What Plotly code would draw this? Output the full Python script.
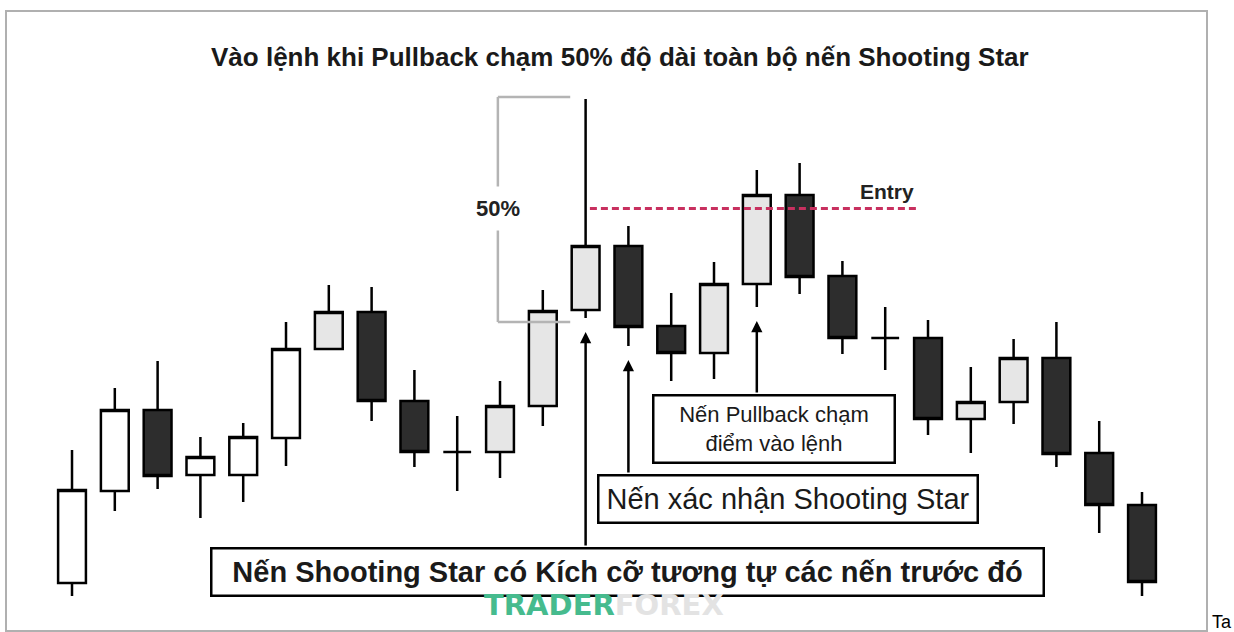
import plotly.graph_objects as go

# ==================== Data ====================
candle_no = list(range(1, 27))
price_open = [28.5, 74.5, 115, 82.5, 82.5, 101, 145.5, 164, 119.5, 94, 94, 117, 165,
              197, 157, 143.5, 178, 222.5, 182, 151, 151, 110.5, 119, 141, 93.5, 67.5]
price_high = [95, 126, 139.5, 101.5, 108.5, 159, 177.5, 176.5, 135, 112, 129.5, 175, 270.5,
              207, 173.5, 189, 235, 238.5, 189.5, 166.5, 160, 136.5, 150.5, 159, 109.5, 74]
price_low = [22, 64.5, 75.5, 61, 69, 87, 145, 109.5, 86.5, 74.5, 81, 107, 161,
             147, 129.5, 130.5, 166.5, 173, 143, 135, 102.5, 93.5, 108, 86.5, 53.5, 22]
price_close = [75, 115, 82, 91.5, 101.5, 145.5, 164, 119.5, 94, 94, 117, 164.5, 197,
               156.5, 143.5, 178, 222.5, 181.5, 151, 151, 110.5, 119, 141, 93, 67.5, 29]

# candles drawn with a light grey body
shaded = [7, 11, 12, 13, 16, 17, 22, 23]

star = 13          # Shooting Star
confirm = 14       # confirmation candle
pullback = 17      # pullback candle touching entry

title = "Vào lệnh khi Pullback chạm 50% độ dài toàn bộ nến Shooting Star"
label_star = "Nến Shooting Star có Kích cỡ tương tự các nến trước đó"
label_confirm = "Nến xác nhận Shooting Star"
label_pullback = "Nến Pullback chạm<br>điểm vào lệnh"

FONT = "Liberation Sans, Arial, sans-serif"


def pick(values, idx):
    return [values[i - 1] for i in idx]


plain = [n for n in candle_no if n not in shaded]
star_hi = price_high[star - 1]
star_lo = price_low[star - 1]
entry = (star_hi + star_lo) / 2

# ==================== Candles ====================
fig = go.Figure()

for idx, up_fill in [(plain, "white"), (shaded, "#e6e6e6")]:
    fig.add_trace(go.Candlestick(
        x=idx,
        open=pick(price_open, idx),
        high=pick(price_high, idx),
        low=pick(price_low, idx),
        close=pick(price_close, idx),
        increasing=dict(line=dict(color="black", width=2.5), fillcolor=up_fill),
        decreasing=dict(line=dict(color="black", width=2.5), fillcolor="#2d2d2d"),
        whiskerwidth=0,
        showlegend=False,
        hoverinfo="skip",
    ))

# ==================== Bracket & entry line ====================
bx0, bx1 = star - 2.05, star - 0.36
gray = "#b4b4b4"
fig.add_shape(type="line", x0=bx0, x1=bx1, y0=star_hi + 1, y1=star_hi + 1,
              line=dict(color=gray, width=2.5))
fig.add_shape(type="line", x0=bx0, x1=bx1, y0=star_lo - 2, y1=star_lo - 2,
              line=dict(color=gray, width=2.5))
fig.add_shape(type="line", x0=bx0, x1=bx0, y0=star_hi + 1, y1=entry + 11,
              line=dict(color=gray, width=2.5))
fig.add_shape(type="line", x0=bx0, x1=bx0, y0=entry - 11, y1=star_lo - 2,
              line=dict(color=gray, width=2.5))
fig.add_shape(type="line", x0=star + 0.1, x1=20.77, y0=entry, y1=entry,
              line=dict(color="#c8305f", width=3, dash="7px,4px"))

fig.add_annotation(x=bx0, y=entry, text="<b>50%</b>", showarrow=False,
                   xanchor="center", yanchor="middle",
                   font=dict(family=FONT, size=22, color="#222"))
fig.add_annotation(x=20.04, y=entry + 8.5, text="<b>Entry</b>", showarrow=False,
                   xanchor="center", yanchor="middle",
                   font=dict(family=FONT, size=21, color="#222"))

# ==================== Arrows ====================
for n, tail in [(star, 46.5), (confirm, 83), (pullback, 123)]:
    fig.add_annotation(x=n, y=price_low[n - 1] - 7, ax=n, ay=tail,
                       xref="x", yref="y", axref="x", ayref="y",
                       text="", showarrow=True, arrowhead=2, arrowsize=0.9,
                       arrowwidth=2.5, arrowcolor="black", standoff=0)

# ==================== Label boxes ====================
boxes = [
    (13.97, 34.25, 830, 45, "<b>" + label_star + "</b>", 29),
    (17.74, 70.75, 377, 45, label_confirm, 29),
    (17.41, 105.75, 239, 65, label_pullback, 22),
]
for bx, by, w, h, txt, size in boxes:
    fig.add_annotation(x=bx, y=by, text=txt, showarrow=False,
                       width=w, height=h, align="center", valign="middle",
                       xanchor="center", yanchor="middle",
                       bgcolor="white", bordercolor="black", borderwidth=2.5,
                       borderpad=0, font=dict(family=FONT, size=size, color="#1a1a1a"))

# ==================== Title, watermark ====================
fig.add_annotation(xref="paper", yref="paper", x=0.511, y=0.927, text="<b>" + title + "</b>",
                   xanchor="center", yanchor="middle",
                   showarrow=False, font=dict(family=FONT, size=26, color="#1a1a1a"))
fig.add_annotation(xref="paper", yref="paper", x=0.498, y=0.04,
                   xanchor="center", yanchor="middle",
                   text="<b><span style='color:#46bb8e'>TRADER</span>"
                        "<span style='color:#e3e3e3'>FOREX</span></b>",
                   showarrow=False, font=dict(family="DejaVu Sans", size=29))
fig.add_annotation(xref="paper", yref="paper", x=1.003, y=0.013, xanchor="left", yanchor="middle",
                   text="Ta", showarrow=False, font=dict(family=FONT, size=18, color="black"))

# ==================== Layout Settings ====================
fig.update_layout(
    width=1234,
    height=632,
    margin=dict(l=7, r=28, t=12, b=2),
    paper_bgcolor="white",
    plot_bgcolor="white",
    boxgap=0.35,
    boxgroupgap=0,
    xaxis=dict(range=[-0.519, 27.495], showgrid=False, zeroline=False, showticklabels=False,
               ticks="", showline=True, mirror=True, linecolor="#b0b0b0", linewidth=2,
               rangeslider=dict(visible=False), fixedrange=True),
    yaxis=dict(range=[5, 314], showgrid=False, zeroline=False, showticklabels=False,
               ticks="", showline=True, mirror=True, linecolor="#b0b0b0", linewidth=2,
               fixedrange=True),
)

fig.write_html("out.html", config={"displayModeBar": False},
               post_script="document.body.style.margin='0';")
